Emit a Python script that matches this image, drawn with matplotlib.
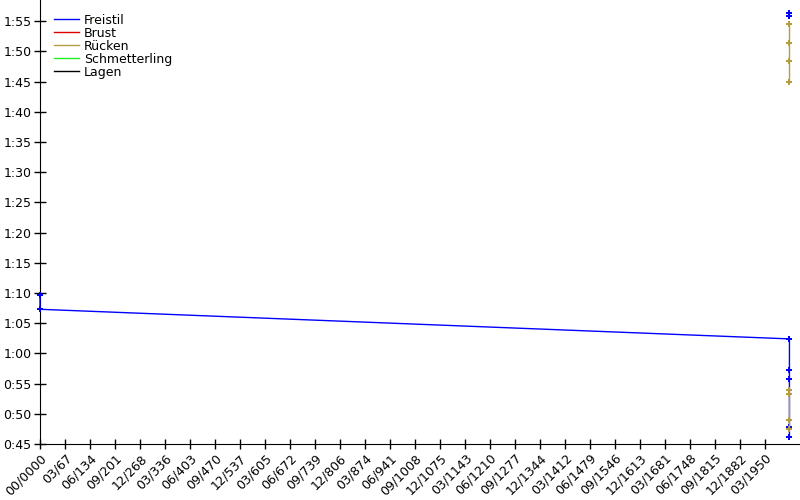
import matplotlib
matplotlib.use("Agg")
import matplotlib.pyplot as plt
from matplotlib.lines import Line2D
import numpy as np

# x values in years, y values in seconds
tick_labels = ["00/0000", "03/67", "06/134", "09/201", "12/268", "03/336", "06/403",
               "09/470", "12/537", "03/605", "06/672", "09/739", "12/806", "03/874",
               "06/941", "09/1008", "12/1075", "03/1143", "06/1210", "09/1277",
               "12/1344", "03/1412", "06/1479", "09/1546", "12/1613", "03/1681",
               "06/1748", "09/1815", "12/1882", "03/1950"]
tick_step_years = 67.25

freistil_x = [0, 0, 2016, 2016, 2016, 2016, 2016, np.nan, 2016, 2016]
freistil_y = [69.7, 67.3, 62.4, 57.2, 55.7, 47.8, 46.1, np.nan, 116.3, 115.9]

ruecken_x = [2016, 2016, 2016, 2016, np.nan, 2016, 2016, 2016, 2016]
ruecken_y = [114.5, 111.3, 108.4, 104.9, np.nan, 53.9, 53.3, 49.0, 47.5]

brust_x, brust_y = [], []
schmetterling_x, schmetterling_y = [], []
lagen_x, lagen_y = [], []

series_names = ["Freistil", "Brust", "Rücken", "Schmetterling", "Lagen"]
series_colors = ["#0000ff", "#e00000", "#b59c3c", "#22ee22", "#000000"]

y_ticks = list(range(45, 120, 5))


def fmt(s):
    return f"{s // 60}:{s % 60:02d}"


fig = plt.figure(figsize=(8, 5), dpi=100)
ax = fig.add_axes([0.05, 0.112, 0.95, 0.888])

mk = dict(marker="P", markersize=4.5, markeredgewidth=0, lw=1, clip_on=False, zorder=3)
data = [(freistil_x, freistil_y), (brust_x, brust_y), (ruecken_x, ruecken_y),
        (schmetterling_x, schmetterling_y), (lagen_x, lagen_y)]
for (xs, ys), c in zip(data, series_colors):
    if len(xs):
        ax.plot(xs, ys, color=c, **mk)

ax.set_xlim(0, (800 - 40) / 25 * tick_step_years)
ax.set_ylim(45, 118.5)

ax.set_yticks(y_ticks)
ax.set_yticklabels([fmt(s) for s in y_ticks], fontsize=9)
ax.set_xticks([i * tick_step_years for i in range(len(tick_labels))])
ax.set_xticklabels(tick_labels, fontsize=9, rotation=45, ha="right",
                   rotation_mode="anchor")

ax.tick_params(axis="y", direction="inout", length=8, width=1, pad=2)
ax.tick_params(axis="x", direction="inout", length=7, width=1, pad=2)
for s in ("top", "right"):
    ax.spines[s].set_visible(False)
for s in ("left", "bottom"):
    ax.spines[s].set_zorder(1)

handles = [Line2D([], [], color=c, lw=1) for c in series_colors]
ax.legend(handles, series_names, loc="upper left", bbox_to_anchor=(0.008, 0.986),
          frameon=False, fontsize=9, handlelength=2.0, handletextpad=0.45,
          labelspacing=0.0, borderaxespad=0.2)

fig.savefig("out.png", dpi=100)
